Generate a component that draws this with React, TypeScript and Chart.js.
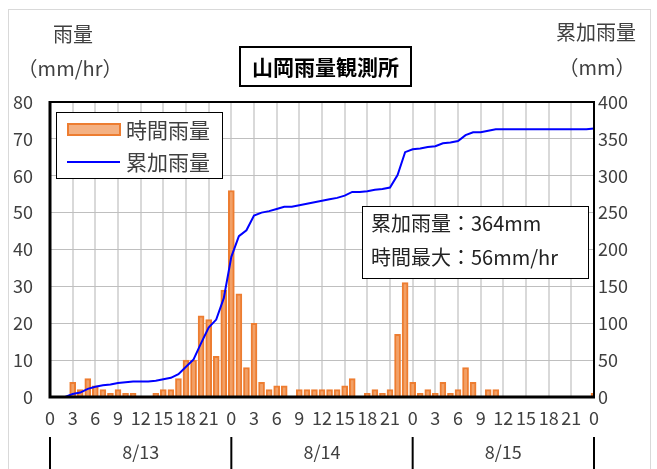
import React, { useEffect, useRef } from 'react';
import { Chart, registerables } from 'chart.js';

Chart.register(...registerables);

// hour-of-day labels, 8/13 0:00 .. 8/16 0:00
const hourLabels = [
  '0','1','2','3','4','5','6','7','8','9','10','11','12','13','14','15','16','17','18','19','20','21','22','23',
  '0','1','2','3','4','5','6','7','8','9','10','11','12','13','14','15','16','17','18','19','20','21','22','23',
  '0','1','2','3','4','5','6','7','8','9','10','11','12','13','14','15','16','17','18','19','20','21','22','23',
  '0',
];

// 時間雨量 (mm/hr)
const hourlyRain = [
  0, 0, 0, 4, 2, 5, 3, 2, 1, 2, 1, 1, 0, 0, 1, 2, 2, 5, 10, 10, 22, 21, 11, 29,
  56, 28, 8, 20, 4, 2, 3, 3, 0, 2, 2, 2, 2, 2, 2, 3, 5, 0, 1, 2, 1, 2, 17, 31,
  4, 1, 2, 1, 4, 1, 2, 8, 4, 0, 2, 2, 0, 0, 0, 0, 0, 0, 0, 0, 0, 0, 0, 0,
  1,
];

// 累加雨量 (mm)
const cumulativeRain = [
  0, 0, 0, 4, 6, 11, 14, 16, 17, 19, 20, 21, 21, 21, 22, 24, 26, 31, 41, 51, 73, 94, 105, 134,
  190, 218, 226, 246, 250, 252, 255, 258, 258, 260, 262, 264, 266, 268, 270, 273, 278, 278, 279, 281, 282, 284, 301, 332,
  336, 337, 339, 340, 344, 345, 347, 355, 359, 359, 361, 363, 363, 363, 363, 363, 363, 363, 363, 363, 363, 363, 363, 363,
  364,
];

const dayLabels = ['8/13', '8/14', '8/15'];
const dayStartIndex = [0, 24, 48, 72];

const titleText = '山岡雨量観測所';
const legendLabels = ['時間雨量', '累加雨量'];
const leftTitle = ['雨量', '（mm/hr）'];
const rightTitle = ['累加雨量', '（mm）'];
const noteLines = ['累加雨量：364mm', '時間最大：56mm/hr'];

const FONT = '"Noto Sans CJK JP", "Noto Sans", sans-serif';
const TEXT = '#404040';
const LEGEND_FILL = '#F4B183';
const BAR_FILL = '#F2A066';
const BAR_EDGE = '#ED7D31';
const LINE = '#0000FF';

const decorPlugin = {
  id: 'decor',
  afterDraw(chart: any) {
    const { ctx, chartArea: a } = chart;
    const xs = chart.scales.x;
    ctx.save();

    // outer border
    ctx.strokeStyle = '#d9d9d9';
    ctx.lineWidth = 1;
    ctx.strokeRect(8.5, 9.5, 642, 470);

    // plot frame
    ctx.strokeStyle = '#000';
    ctx.lineWidth = 2;
    ctx.beginPath();
    ctx.moveTo(a.left, a.top);
    ctx.lineTo(a.right, a.top);
    ctx.lineTo(a.right, a.bottom);
    ctx.stroke();
    ctx.lineWidth = 3;
    ctx.beginPath();
    ctx.moveTo(a.left, a.top - 1);
    ctx.lineTo(a.left, a.bottom);
    ctx.lineTo(a.right + 1, a.bottom);
    ctx.stroke();

    // axis titles
    ctx.fillStyle = TEXT;
    ctx.textAlign = 'center';
    ctx.textBaseline = 'middle';
    ctx.font = `20px ${FONT}`;
    ctx.fillText(leftTitle[0], 73, 34);
    ctx.fillText(leftTitle[1], 70, 68);
    ctx.fillText(rightTitle[0], 596, 32);
    ctx.fillText(rightTitle[1], 597, 67);

    // title box
    ctx.fillStyle = '#fff';
    ctx.fillRect(240, 47, 171, 39);
    ctx.strokeStyle = '#000';
    ctx.lineWidth = 2;
    ctx.strokeRect(240, 47, 171, 39);
    ctx.fillStyle = '#000';
    ctx.font = `bold 21px ${FONT}`;
    ctx.fillText(titleText, 325.5, 67);

    // legend
    ctx.fillStyle = '#fff';
    ctx.fillRect(56, 112, 166, 66);
    ctx.strokeStyle = '#000';
    ctx.lineWidth = 1;
    ctx.strokeRect(56.5, 112.5, 166, 66);
    ctx.fillStyle = LEGEND_FILL;
    ctx.fillRect(68, 124, 52, 11);
    ctx.strokeStyle = BAR_EDGE;
    ctx.lineWidth = 2;
    ctx.strokeRect(68, 124, 52, 11);
    ctx.strokeStyle = LINE;
    ctx.lineWidth = 2;
    ctx.beginPath();
    ctx.moveTo(67, 162);
    ctx.lineTo(120, 162);
    ctx.stroke();
    ctx.fillStyle = TEXT;
    ctx.textAlign = 'left';
    ctx.font = `21px ${FONT}`;
    ctx.fillText(legendLabels[0], 126, 130);
    ctx.fillText(legendLabels[1], 126, 162);

    // annotation box
    ctx.fillStyle = '#fff';
    ctx.fillRect(362, 206, 226, 72);
    ctx.strokeStyle = '#000';
    ctx.lineWidth = 1;
    ctx.strokeRect(362.5, 206.5, 226, 72);
    ctx.fillStyle = '#222';
    ctx.font = `20px ${FONT}`;
    ctx.fillText(noteLines[0], 371, 223);
    ctx.fillText(noteLines[1], 371, 257);

    // day separators and labels
    ctx.strokeStyle = '#000';
    ctx.lineWidth = 2;
    const px = dayStartIndex.map((i) => xs.getPixelForValue(i));
    px.forEach((x: number) => {
      ctx.beginPath();
      ctx.moveTo(x, 437);
      ctx.lineTo(x, 475);
      ctx.stroke();
    });
    ctx.fillStyle = TEXT;
    ctx.textAlign = 'center';
    ctx.font = `18px ${FONT}`;
    dayLabels.forEach((d, i) => {
      ctx.fillText(d, (px[i] + px[i + 1]) / 2, 452);
    });

    ctx.restore();
  },
};

export default function App() {
  const ref = useRef<HTMLCanvasElement | null>(null);

  useEffect(() => {
    if (!ref.current) return;
    const chart = new Chart(ref.current, {
      type: 'bar',
      data: {
        labels: hourLabels,
        datasets: [
          {
            type: 'line',
            label: legendLabels[1],
            data: cumulativeRain,
            yAxisID: 'y1',
            borderColor: LINE,
            borderWidth: 2,
            pointRadius: 0,
            tension: 0,
            fill: false,
            order: 0,
          } as any,
          {
            type: 'bar',
            label: legendLabels[0],
            data: hourlyRain,
            yAxisID: 'y',
            backgroundColor: BAR_FILL,
            borderColor: BAR_EDGE,
            borderWidth: 2,
            barThickness: 6,
            order: 1,
          },
        ],
      },
      options: {
        responsive: false,
        animation: false,
        devicePixelRatio: 1,
        layout: { padding: { top: 102, bottom: 32, left: 0, right: 0 } },
        plugins: {
          legend: { display: false },
          tooltip: { enabled: false },
          title: { display: false },
        },
        scales: {
          x: {
            type: 'category',
            offset: false,
            grid: {
              offset: false,
              drawTicks: false,
              lineWidth: 2,
              color: (c: any) => (c.index % 3 === 0 ? '#d9d9d9' : 'rgba(0,0,0,0)'),
            },
            border: { display: false },
            ticks: {
              autoSkip: false,
              maxRotation: 0,
              minRotation: 0,
              padding: 10,
              color: TEXT,
              font: { family: FONT, size: 18 },
              callback: (_v: any, i: number) => (i % 3 === 0 ? hourLabels[i] : ''),
            },
            afterFit: (s: any) => {
              s.height = 40;
            },
          },
          y: {
            position: 'left',
            min: 0,
            max: 80,
            grid: { color: '#bfbfbf', lineWidth: 1, drawTicks: false },
            border: { display: false },
            ticks: {
              stepSize: 10,
              padding: 17,
              color: TEXT,
              font: { family: FONT, size: 18 },
            },
            afterFit: (s: any) => {
              s.width = 50;
            },
          },
          y1: {
            position: 'right',
            min: 0,
            max: 400,
            grid: { display: false, drawTicks: false },
            border: { display: false },
            ticks: {
              stepSize: 50,
              padding: 4,
              color: TEXT,
              font: { family: FONT, size: 18 },
            },
            afterFit: (s: any) => {
              s.width = 63;
            },
          },
        },
      },
      plugins: [decorPlugin],
    });
    return () => chart.destroy();
  }, []);

  return (
    <div style={{ position: 'absolute', left: 0, top: 0, width: 657, height: 469, background: '#fff', overflow: 'hidden' }}>
      <canvas ref={ref} width={657} height={469} style={{ display: 'block' }} />
    </div>
  );
}
